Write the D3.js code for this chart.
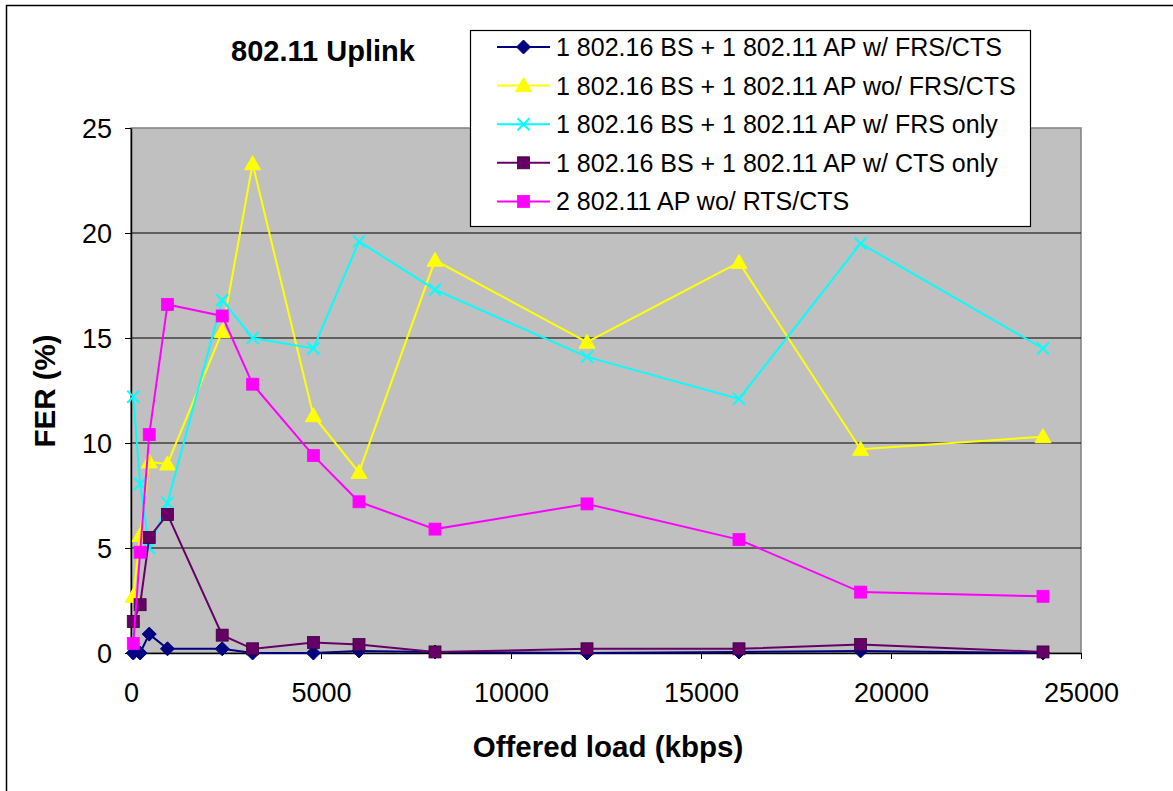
<!DOCTYPE html>
<html><head><meta charset="utf-8">
<script src="https://cdnjs.cloudflare.com/ajax/libs/d3/7.8.5/d3.min.js"></script>
<style>body{margin:0;background:#fff;} text{font-family:"Liberation Sans",Arial,sans-serif;}</style>
</head><body>
<svg id="c" width="1173" height="791"></svg>
<script>
const title = "802.11 Uplink";
const xTitle = "Offered load (kbps)";
const yTitle = "FER (%)";
const loads = [60, 240, 480, 960, 2400, 3200, 4800, 6000, 8000, 12000, 16000, 19200, 24000];
const xTicks = [0, 5000, 10000, 15000, 20000, 25000];
const yTicks = [0, 5, 10, 15, 20, 25];
const seriesNames = [
  "1 802.16 BS + 1 802.11 AP w/ FRS/CTS",
  "1 802.16 BS + 1 802.11 AP wo/ FRS/CTS",
  "1 802.16 BS + 1 802.11 AP w/ FRS only",
  "1 802.16 BS + 1 802.11 AP w/ CTS only",
  "2 802.11 AP wo/ RTS/CTS"
];
const frsCts   = [0, 0, 0.9, 0.2, 0.2, 0, 0, 0.1, 0.05, 0, 0.05, 0.1, 0];
const woFrsCts = [2.7, 5.6, 9.1, 9.0, 15.3, 23.3, 11.3, 8.6, 18.7, 14.8, 18.6, 9.7, 10.3];
const frsOnly  = [12.2, 8.05, 5.0, 7.15, 16.8, 15.0, 14.5, 19.6, 17.3, 14.1, 12.1, 19.5, 14.5];
const ctsOnly  = [1.5, 2.3, 5.5, 6.6, 0.85, 0.2, 0.5, 0.4, 0.05, 0.2, 0.2, 0.4, 0.05];
const twoAp    = [0.45, 4.8, 10.4, 16.6, 16.05, 12.8, 9.4, 7.2, 5.9, 7.1, 5.4, 2.9, 2.7];
const seriesValues = [frsCts, woFrsCts, frsOnly, ctsOnly, twoAp];
const colors = ["#000080", "#FFFF00", "#00FFFF", "#660066", "#FF00FF"];
const markers = ["diamond", "triangle", "x", "square", "square"];

const svg = d3.select("#c");
const L = 131, R = 1081, T = 128, B = 653;
const x = d3.scaleLinear().domain([0, 25000]).range([L, R]);
const y = d3.scaleLinear().domain([0, 25]).range([B, T]);
const FF = "Liberation Sans, Arial, sans-serif";

// outer border
svg.append("rect").attr("x", 6.5).attr("y", 5.5).attr("width", 1180).attr("height", 800)
  .attr("fill", "#fff").attr("stroke", "#000").attr("stroke-width", 1.5);

// plot area
svg.append("rect").attr("x", L).attr("y", T).attr("width", R - L).attr("height", B - T)
  .attr("fill", "#C0C0C0").attr("stroke", "#808080").attr("stroke-width", 1.5);

// gridlines
svg.append("g").selectAll("line").data(yTicks.filter(d => d > 0 && d < 25)).join("line")
  .attr("x1", L).attr("x2", R).attr("y1", d => y(d)).attr("y2", d => y(d))
  .attr("stroke", "#000").attr("stroke-width", 1);

// axes
const xAxis = d3.axisBottom(x).tickValues(xTicks).tickSize(6).tickSizeOuter(0).tickFormat(d3.format("d"));
const gx = svg.append("g").attr("transform", `translate(0,${B})`).call(xAxis);
gx.select(".domain").attr("stroke", "#000").attr("stroke-width", 1.5);
gx.selectAll(".tick line").attr("stroke", "#000");
gx.selectAll(".tick text").attr("font-size", 27).attr("fill", "#000").attr("y", 49).attr("dy", 0)
  .style("font-family", FF);

const yAxis = d3.axisLeft(y).tickValues(yTicks).tickSize(6).tickSizeOuter(0);
const gy = svg.append("g").attr("transform", `translate(${L},0)`).call(yAxis);
gy.select(".domain").attr("stroke", "#000").attr("stroke-width", 1.5);
gy.selectAll(".tick line").attr("stroke", "#000");
gy.selectAll(".tick text").attr("font-size", 27).attr("fill", "#000").attr("x", -19).attr("dy", "0.36em")
  .style("font-family", FF);

// titles
svg.append("text").attr("x", 323).attr("y", 61).attr("text-anchor", "middle")
  .attr("font-size", 29).attr("font-weight", "bold").text(title);
svg.append("text").attr("x", 608).attr("y", 757).attr("text-anchor", "middle")
  .attr("font-size", 29.5).attr("font-weight", "bold").text(xTitle);
svg.append("text").attr("transform", "translate(55,391) rotate(-90)").attr("text-anchor", "middle")
  .attr("font-size", 29.5).attr("font-weight", "bold").text(yTitle);

function drawMarker(g, type, color, cx, cy) {
  if (type === "diamond") {
    g.append("path").attr("d", "M0,-7L7,0L0,7L-7,0Z").attr("transform", `translate(${cx},${cy})`)
      .attr("fill", color).attr("stroke", color).attr("stroke-width", 1);
  } else if (type === "triangle") {
    g.append("path").attr("d", "M0,-8L8,6L-8,6Z").attr("transform", `translate(${cx},${cy})`)
      .attr("fill", color).attr("stroke", color).attr("stroke-width", 1);
  } else if (type === "x") {
    g.append("path").attr("d", "M-6,-6L6,6M-6,6L6,-6").attr("transform", `translate(${cx},${cy})`)
      .attr("fill", "none").attr("stroke", color).attr("stroke-width", 2);
  } else {
    g.append("rect").attr("x", cx - 6).attr("y", cy - 6).attr("width", 12).attr("height", 12)
      .attr("fill", color).attr("stroke", color === "#660066" ? "#3a003a" : color).attr("stroke-width", 0.8);
  }
}

const line = d3.line().x(d => x(d[0])).y(d => y(d[1]));
seriesValues.forEach((vals, i) => {
  const g = svg.append("g");
  const pts = loads.map((l, j) => [l, vals[j]]);
  g.append("path").attr("d", line(pts)).attr("fill", "none").attr("stroke", colors[i]).attr("stroke-width", 2);
  pts.forEach(p => drawMarker(g, markers[i], colors[i], x(p[0]), y(p[1])));
});

// legend
const lg = svg.append("g");
lg.append("rect").attr("x", 470.5).attr("y", 30.5).attr("width", 560).attr("height", 196)
  .attr("fill", "#fff").attr("stroke", "#000").attr("stroke-width", 1.2);
seriesNames.forEach((name, i) => {
  const yy = 47 + i * 38.6;
  lg.append("line").attr("x1", 497).attr("x2", 550).attr("y1", yy).attr("y2", yy)
    .attr("stroke", colors[i]).attr("stroke-width", 2);
  drawMarker(lg, markers[i], colors[i], 523.5, yy);
  lg.append("text").attr("x", 556).attr("y", yy + 9).attr("font-size", 25).text(name);
});
</script>
</body></html>
